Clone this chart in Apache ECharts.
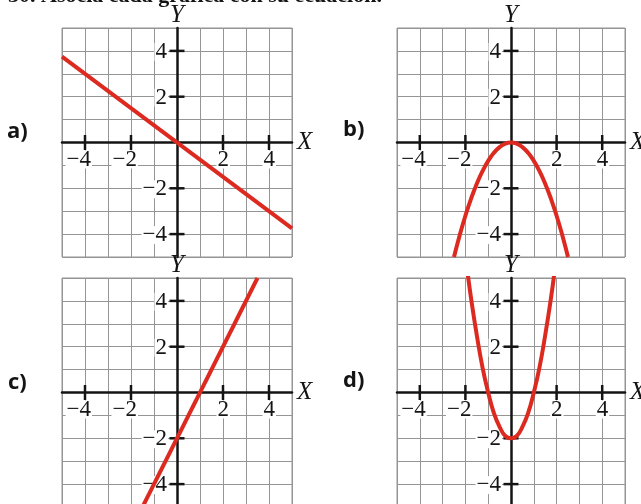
<!DOCTYPE html>
<html>
<head>
<meta charset="utf-8">
<script src="https://cdn.jsdelivr.net/npm/echarts@6/dist/echarts.min.js"></script>
<style>
  html, body { margin: 0; padding: 0; background: #fff; }
  #chart { width: 641px; height: 504px; }
</style>
</head>
<body>
<div id="chart"></div>
<script>
// tick marks / labels, same on every panel
var tickVals = [-4, -2, 2, 4];
var tickLabels = ['\u22124', '\u22122', '2', '4'];

// a) falling line through the origin
var lineA = [[-5, 3.75], [5, -3.75]];

// b) parabola opening down, vertex (0, 0)
var curveBx = [-2.5, -2.25, -2, -1.75, -1.5, -1.25, -1, -0.75, -0.5, -0.25, 0, 0.25, 0.5, 0.75, 1, 1.25, 1.5, 1.75, 2, 2.25, 2.5];
var curveBy = [-5, -4.05, -3.2, -2.45, -1.8, -1.25, -0.8, -0.45, -0.2, -0.05, 0, -0.05, -0.2, -0.45, -0.8, -1.25, -1.8, -2.45, -3.2, -4.05, -5];

// c) rising line, cuts Y at -2 and X at 1
var lineC = [[-1.5, -5], [3.5, 5]];

// d) parabola opening up, vertex (0, -2)
var curveDx = [-1.9, -1.75, -1.5, -1.25, -1, -0.75, -0.5, -0.25, 0, 0.25, 0.5, 0.75, 1, 1.25, 1.5, 1.75, 1.9];
var curveDy = [5.2, 4.1, 2.5, 1.1, 0, -0.9, -1.5, -1.9, -2, -1.9, -1.5, -0.9, 0, 1.1, 2.5, 4.1, 5.2];

var panelNames = ['a)', 'b)', 'c)', 'd)'];

function zip(xs, ys) {
  return xs.map(function (x, i) { return [x, ys[i]]; });
}

var curves = [
  { data: lineA, smooth: false },
  { data: zip(curveBx, curveBy), smooth: true },
  { data: lineC, smooth: false },
  { data: zip(curveDx, curveDy), smooth: true }
];

var boxes = [
  { left: 62, top: 28, width: 230 },
  { left: 397, top: 28, width: 228 },
  { left: 62, top: 278, width: 230 },
  { left: 397, top: 278, width: 228 }
];
var letterPos = [[7, 121], [343, 119], [8, 372], [343, 370]];

var gridCol = '#959595';
var ink = '#141414';
var red = '#dd2a20';
var serif = 'Liberation Serif';

var tickLabel = {
  show: true, position: 'inside', align: 'right', verticalAlign: 'middle',
  formatter: function (p) { return tickLabels[p.dataIndex]; },
  fontFamily: serif, fontSize: 23, fontWeight: 'normal', color: ink, opacity: 1,
  lineHeight: 18, backgroundColor: '#fff', padding: [0, 1]
};

var grids = [], xAxes = [], yAxes = [], series = [], titles = [];

// heading, cut off at the top edge
titles.push({
  text: '30. Asocia cada gráfica con su ecuación.',
  left: 8, top: -15, padding: 0,
  textStyle: { fontFamily: serif, fontWeight: 'bold', fontSize: 22, color: ink }
});

boxes.forEach(function (b, i) {
  grids.push({
    left: b.left, top: b.top, width: b.width, height: 229,
    outerBoundsMode: 'none',
    show: true, borderColor: gridCol, borderWidth: 1, backgroundColor: '#fff'
  });
  xAxes.push({
    gridIndex: i, type: 'value', min: -5, max: 5, interval: 1,
    axisLine: { onZero: true, lineStyle: { color: ink, width: 2.5 } },
    axisTick: { show: false },
    axisLabel: { show: false },
    splitLine: { lineStyle: { color: gridCol, width: 1 } },
    name: 'X', nameLocation: 'end', nameGap: 5,
    nameTextStyle: { fontFamily: serif, fontStyle: 'italic', fontSize: 25, color: ink }
  });
  yAxes.push({
    gridIndex: i, type: 'value', min: -5, max: 5, interval: 1,
    axisLine: { onZero: true, lineStyle: { color: ink, width: 2.5 } },
    axisTick: { show: false },
    axisLabel: { show: false },
    splitLine: { lineStyle: { color: gridCol, width: 1 } },
    name: 'Y', nameLocation: 'end', nameGap: 0,
    nameTextStyle: { fontFamily: serif, fontStyle: 'italic', fontSize: 25, color: ink }
  });

  // x ticks crossing the axis, digit sits right under the tick
  series.push({
    type: 'scatter', xAxisIndex: i, yAxisIndex: i, z: 3, silent: true,
    data: tickVals.map(function (v) { return [v, 0]; }),
    symbol: 'rect', symbolSize: [2.5, 15],
    itemStyle: { color: ink, opacity: 1 },
    label: Object.assign({}, tickLabel, { offset: [7, 17] })
  });
  // y ticks, labels to the left
  series.push({
    type: 'scatter', xAxisIndex: i, yAxisIndex: i, z: 3, silent: true,
    data: tickVals.map(function (v) { return [0, v]; }),
    symbol: 'rect', symbolSize: [15, 2.5],
    itemStyle: { color: ink, opacity: 1 },
    label: Object.assign({}, tickLabel, { offset: [-9, 1] })
  });

  series.push({
    type: 'line', xAxisIndex: i, yAxisIndex: i, z: 5, silent: true,
    data: curves[i].data, smooth: curves[i].smooth,
    showSymbol: false, clip: true,
    lineStyle: { color: red, width: 4 }
  });

  titles.push({
    text: panelNames[i], left: letterPos[i][0], top: letterPos[i][1], padding: 0,
    textStyle: { fontFamily: 'Open Sans', fontWeight: 'bold', fontSize: 22, color: ink }
  });
});

var chart = echarts.init(document.getElementById('chart'));
chart.setOption({
  animation: false,
  backgroundColor: '#fff',
  textStyle: { fontFamily: serif },
  title: titles,
  grid: grids,
  xAxis: xAxes,
  yAxis: yAxes,
  series: series
});
</script>
</body>
</html>
